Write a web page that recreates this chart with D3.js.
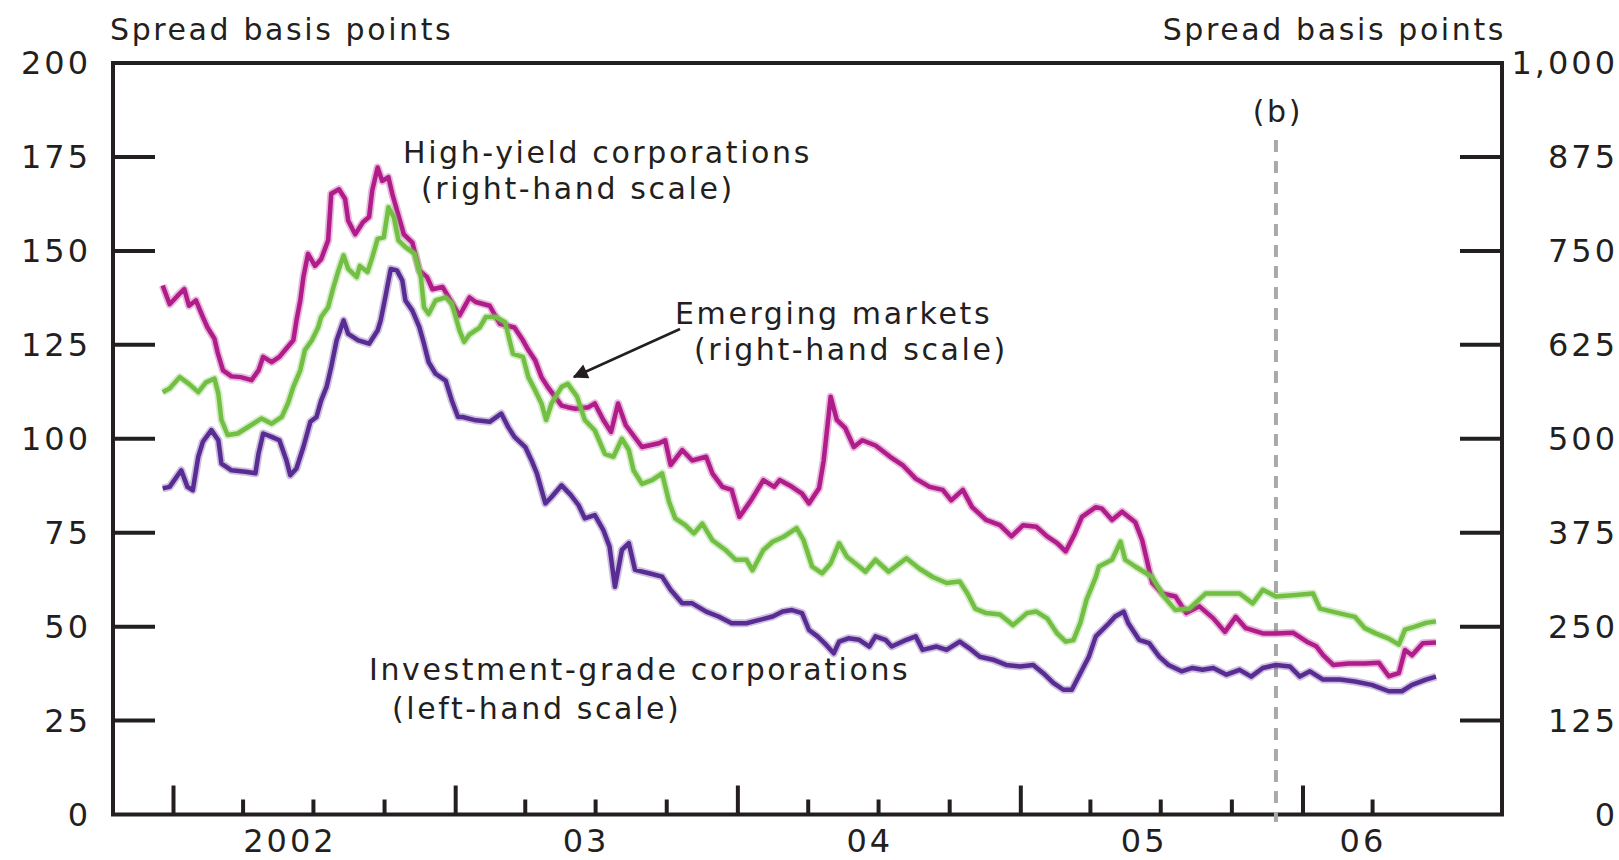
<!DOCTYPE html>
<meta charset="utf-8">
<style>
  body { margin: 0; background: #fff; }
  svg text { font-family: "DejaVu Sans", sans-serif; fill: #231f20; }
  .note { font-size: 30px; letter-spacing: 2.6px; }
  .tick-label { font-size: 32px; letter-spacing: 3px; }
</style>
<script src="https://d3js.org/d3.v7.min.js"></script>
<body>
<script>
// high-yield corporations, right-hand scale (basis points)
var hyDates = [
  "2001-12-18","2001-12-27","2002-01-06","2002-01-15","2002-01-21","2002-01-30","2002-02-08","2002-02-14","2002-02-23","2002-02-27",
  "2002-03-06","2002-03-17","2002-03-29","2002-04-12","2002-04-21","2002-04-27","2002-05-08","2002-05-18","2002-05-27","2002-06-05",
  "2002-06-09","2002-06-14","2002-06-18","2002-06-24","2002-07-03","2002-07-11","2002-07-20","2002-07-24","2002-08-03","2002-08-11",
  "2002-08-15","2002-08-24","2002-09-03","2002-09-11","2002-09-15","2002-09-22","2002-09-28","2002-10-06","2002-10-11","2002-10-21",
  "2002-10-26","2002-11-06","2002-11-15","2002-11-25","2002-12-02","2002-12-15","2003-01-06","2003-01-19","2003-01-27","2003-02-14",
  "2003-02-27","2003-03-18","2003-03-29","2003-04-05","2003-04-14","2003-04-22","2003-04-30","2003-05-18","2003-05-26","2003-06-05",
  "2003-06-22","2003-06-30","2003-07-11","2003-07-21","2003-07-30","2003-08-09","2003-08-30","2003-09-21","2003-09-29","2003-10-06",
  "2003-10-21","2003-11-03","2003-11-21","2003-11-29","2003-12-12","2003-12-24","2004-01-03","2004-01-18","2004-02-03","2004-02-17",
  "2004-02-24","2004-03-11","2004-03-24","2004-04-02","2004-04-15","2004-04-21","2004-04-30","2004-05-08","2004-05-19","2004-05-30",
  "2004-06-10","2004-06-27","2004-07-16","2004-08-01","2004-08-18","2004-09-05","2004-09-22","2004-10-03","2004-10-18","2004-10-30",
  "2004-11-17","2004-12-05","2004-12-20","2005-01-04","2005-01-21","2005-02-04","2005-02-17","2005-02-28","2005-03-12","2005-03-21",
  "2005-04-08","2005-04-16","2005-04-29","2005-05-12","2005-05-29","2005-06-07","2005-06-20","2005-07-03","2005-07-20","2005-08-03",
  "2005-08-20","2005-09-07","2005-09-22","2005-10-06","2005-10-19","2005-11-10","2005-11-27","2005-12-19","2006-01-06","2006-01-18",
  "2006-01-27","2006-02-09","2006-03-01","2006-03-22","2006-04-09","2006-04-22","2006-05-05","2006-05-13","2006-05-22","2006-06-05","2006-06-22"
];
var hyValues = [
  704,679,690,699,677,684,662,648,633,615,
  591,583,582,578,591,609,602,609,620,631,
  657,684,715,746,730,739,764,826,832,819,
  790,772,788,795,830,861,843,848,826,790,
  772,761,724,715,699,702,664,688,682,677,
  653,648,631,618,604,582,569,544,542,540,
  542,547,525,509,547,518,489,494,498,465,
  485,471,476,454,436,432,396,418,445,436,
  445,436,427,414,434,471,556,525,514,489,
  498,491,476,465,447,436,432,418,432,409,
  392,385,370,385,383,370,361,350,374,396,
  409,407,392,403,389,365,308,294,290,268,
  277,261,243,263,248,241,241,242,230,224,
  212,199,201,201,202,184,188,219,212,228,229
];

// emerging markets, right-hand scale
var emDates = [
  "2001-12-18","2001-12-27","2002-01-09","2002-01-21","2002-02-02","2002-02-12","2002-02-23","2002-02-28","2002-03-04","2002-03-12",
  "2002-03-25","2002-04-08","2002-04-25","2002-05-08","2002-05-21","2002-05-29","2002-06-05","2002-06-14","2002-06-20","2002-06-29",
  "2002-07-07","2002-07-11","2002-07-20","2002-07-27","2002-08-03","2002-08-09","2002-08-15","2002-08-26","2002-08-30","2002-09-09",
  "2002-09-15","2002-09-22","2002-09-30","2002-10-06","2002-10-13","2002-10-19","2002-10-28","2002-11-09","2002-11-17","2002-11-21",
  "2002-11-27","2002-12-06","2002-12-19","2002-12-27","2003-01-06","2003-01-12","2003-01-19","2003-02-01","2003-02-09","2003-02-22",
  "2003-03-06","2003-03-16","2003-03-29","2003-04-05","2003-04-14","2003-04-22","2003-04-28","2003-05-05","2003-05-18","2003-05-26",
  "2003-06-07","2003-06-17","2003-06-30","2003-07-13","2003-07-24","2003-08-04","2003-08-13","2003-08-19","2003-08-30","2003-09-12",
  "2003-09-25","2003-10-04","2003-10-12","2003-10-25","2003-11-05","2003-11-16","2003-11-29","2003-12-16","2003-12-29","2004-01-12",
  "2004-01-20","2004-02-03","2004-02-15","2004-03-01","2004-03-17","2004-03-26","2004-04-06","2004-04-19","2004-04-30","2004-05-11",
  "2004-05-21","2004-06-06","2004-06-14","2004-06-27","2004-07-14","2004-08-06","2004-08-23","2004-09-09","2004-09-27","2004-10-14",
  "2004-10-24","2004-11-03","2004-11-17","2004-12-05","2004-12-22","2005-01-09","2005-01-21","2005-02-04","2005-02-17","2005-02-28",
  "2005-03-10","2005-03-19","2005-03-27","2005-04-08","2005-04-12","2005-04-29","2005-05-10","2005-05-16","2005-05-29","2005-06-20",
  "2005-07-05","2005-07-20","2005-08-07","2005-08-28","2005-09-19","2005-10-11","2005-10-28","2005-11-10","2005-11-27","2005-12-23",
  "2006-01-14","2006-01-23","2006-02-16","2006-03-09","2006-03-22","2006-04-05","2006-04-22","2006-05-05","2006-05-13","2006-05-26",
  "2006-06-09","2006-06-22"
];
var emValues = [
  562,567,582,573,562,575,580,560,525,505,
  507,516,527,520,529,547,569,591,618,631,
  648,662,675,702,726,744,726,715,730,722,
  741,766,768,808,795,764,755,746,715,675,
  666,684,688,680,644,629,639,648,662,662,
  655,613,609,582,564,547,525,547,569,573,
  556,525,511,480,476,500,485,458,440,445,
  454,416,394,385,374,387,365,352,339,339,
  325,352,363,370,381,365,330,321,334,361,
  343,330,323,339,323,341,327,316,308,310,
  294,274,268,266,252,268,270,261,241,230,
  232,255,286,316,330,339,363,339,330,316,
  290,272,274,294,294,294,281,299,290,292,
  294,274,268,263,248,241,234,226,246,250,
  255,257
];

// investment-grade corporations, left-hand scale
var igDates = [
  "2001-12-18","2001-12-27","2002-01-11","2002-01-19","2002-01-26","2002-02-02","2002-02-08","2002-02-19","2002-02-28","2002-03-04",
  "2002-03-17","2002-04-04","2002-04-17","2002-04-21","2002-04-27","2002-05-08","2002-05-18","2002-05-27","2002-06-01","2002-06-09",
  "2002-06-18","2002-06-27","2002-07-05","2002-07-11","2002-07-18","2002-07-24","2002-07-31","2002-08-09","2002-08-15","2002-08-28",
  "2002-09-11","2002-09-22","2002-09-26","2002-10-02","2002-10-09","2002-10-17","2002-10-24","2002-10-28","2002-11-06","2002-11-15",
  "2002-11-21","2002-11-27","2002-12-06","2002-12-19","2002-12-27","2003-01-04","2003-01-10","2003-01-27","2003-02-14","2003-03-01",
  "2003-03-10","2003-03-18","2003-04-01","2003-04-09","2003-04-16","2003-04-27","2003-05-05","2003-05-18","2003-05-30","2003-06-09",
  "2003-06-17","2003-06-30","2003-07-11","2003-07-19","2003-07-26","2003-08-04","2003-08-13","2003-08-21","2003-09-08","2003-09-25",
  "2003-10-06","2003-10-21","2003-11-03","2003-11-21","2003-12-07","2003-12-24","2004-01-12","2004-01-29","2004-02-15","2004-02-28",
  "2004-03-11","2004-03-24","2004-04-02","2004-04-13","2004-04-24","2004-05-04","2004-05-11","2004-05-23","2004-06-06","2004-06-19",
  "2004-06-27","2004-07-10","2004-07-18","2004-08-06","2004-08-18","2004-08-27","2004-09-14","2004-09-27","2004-10-14","2004-10-26",
  "2004-11-09","2004-11-26","2004-12-13","2004-12-31","2005-01-17","2005-01-30","2005-02-12","2005-02-25","2005-03-08","2005-03-19",
  "2005-03-30","2005-04-08","2005-04-25","2005-05-03","2005-05-14","2005-05-20","2005-06-03","2005-06-16","2005-06-29","2005-07-11",
  "2005-07-28","2005-08-11","2005-08-24","2005-09-07","2005-09-24","2005-10-11","2005-10-26","2005-11-10","2005-11-27","2005-12-15",
  "2005-12-28","2006-01-10","2006-01-27","2006-02-18","2006-03-09","2006-03-31","2006-04-22","2006-05-09","2006-05-22","2006-06-09",
  "2006-06-22"
];
var igValues = [
  86.8,87.2,91.6,87.2,86.3,95.2,99.2,102.3,99.6,93.4,
  91.6,91.2,90.8,96.1,101.4,100.5,99.6,94.3,90.3,92.1,
  97.8,104.5,105.8,110.2,113.8,119.1,126.2,131.5,127.9,126.2,
  125.3,128.8,131.5,137.7,145.2,144.8,142.1,136.8,134.1,129.7,
  125.3,120.4,117.3,115.5,110.2,105.8,105.8,104.9,104.5,106.7,
  103.1,100.5,97.8,94.3,90.8,82.8,84.5,87.6,85.0,82.3,
  78.8,79.7,75.7,71.3,60.6,70.4,72.2,65.1,64.2,63.3,
  59.8,56.2,56.2,54.0,52.7,50.9,50.9,51.8,52.7,54.0,
  54.4,53.6,49.1,47.4,45.2,42.9,46.0,46.9,46.5,44.7,
  47.4,46.5,44.7,46.5,47.4,43.8,44.7,43.8,46.0,44.3,
  42.0,41.2,39.8,39.4,39.8,37.6,35.0,33.2,33.2,37.6,
  42.0,47.4,50.9,52.7,54.0,50.9,46.5,45.6,42.0,39.8,
  38.1,39.0,38.5,39.0,37.2,38.5,36.7,39.0,39.8,39.4,
  36.7,38.1,35.9,35.9,35.4,34.5,32.8,32.8,34.5,35.9,
  36.7
];

var leftTicks = [0, 25, 50, 75, 100, 125, 150, 175, 200];
var rightTicks = [0, 125, 250, 375, 500, 625, 750, 875, 1000];
var yearLabels = ["2002", "03", "04", "05", "06"];
var yearLabelDates = ["2002-05-29", "2003-06-16", "2004-06-17", "2005-06-07", "2006-03-17"];
var markerDate = "2005-11-27"; // (b)

var width = 1619, height = 860;
var margin = {left: 113, right: 1502, top: 63, bottom: 814.5};

var parse = d3.timeParse("%Y-%m-%d");

var svg = d3.select("body").append("svg")
    .attr("width", width)
    .attr("height", height);

var x = d3.scaleTime()
    .domain([parse("2002-01-01"), parse("2006-01-01")])
    .range([173.5, 1303]);
var yLeft = d3.scaleLinear().domain([0, 200]).range([margin.bottom, margin.top]);
var yRight = d3.scaleLinear().domain([0, 1000]).range([margin.bottom, margin.top]);

var ink = "#231f20";

// frame
svg.append("rect")
    .attr("x", margin.left).attr("y", margin.top)
    .attr("width", margin.right - margin.left)
    .attr("height", margin.bottom - margin.top)
    .attr("fill", "none").attr("stroke", ink).attr("stroke-width", 4);

// y ticks, pointing inwards
svg.selectAll(".ltick").data(leftTicks.slice(1, -1)).enter().append("line")
    .attr("x1", margin.left).attr("x2", margin.left + 42)
    .attr("y1", function(d) { return yLeft(d); })
    .attr("y2", function(d) { return yLeft(d); })
    .attr("stroke", ink).attr("stroke-width", 4);
svg.selectAll(".rtick").data(rightTicks.slice(1, -1)).enter().append("line")
    .attr("x1", margin.right - 42).attr("x2", margin.right)
    .attr("y1", function(d) { return yRight(d); })
    .attr("y2", function(d) { return yRight(d); })
    .attr("stroke", ink).attr("stroke-width", 4);

svg.selectAll(".llab").data(leftTicks).enter().append("text")
    .attr("class", "tick-label")
    .attr("x", 91).attr("y", function(d) { return yLeft(d) + 11; })
    .attr("text-anchor", "end")
    .text(function(d) { return d; });
svg.selectAll(".rlab").data(rightTicks).enter().append("text")
    .attr("class", "tick-label")
    .attr("x", 1618).attr("y", function(d) { return yRight(d) + 11; })
    .attr("text-anchor", "end")
    .text(function(d) { return d3.format(",")(d); });

// quarterly ticks on the time axis, taller at the start of each year
var quarters = d3.timeMonth.every(3).range(parse("2002-01-01"), parse("2006-04-02"));
svg.selectAll(".xtick").data(quarters).enter().append("line")
    .attr("x1", function(d) { return x(d); })
    .attr("x2", function(d) { return x(d); })
    .attr("y1", margin.bottom)
    .attr("y2", function(d) { return margin.bottom - (d.getMonth() === 0 ? 29 : 15); })
    .attr("stroke", ink).attr("stroke-width", 4);

svg.selectAll(".xlab").data(yearLabels).enter().append("text")
    .attr("class", "tick-label")
    .attr("x", function(d, i) { return x(parse(yearLabelDates[i])) + 2; })
    .attr("y", 852)
    .attr("text-anchor", "middle")
    .text(function(d) { return d; });

// axis titles
svg.append("text").attr("class", "note").attr("x", 110).attr("y", 40).text("Spread basis points");
svg.append("text").attr("class", "note").attr("x", 1506).attr("y", 40)
    .attr("text-anchor", "end").text("Spread basis points");

// (b) marker
var mx = x(parse(markerDate));
svg.append("line")
    .attr("x1", mx).attr("x2", mx).attr("y1", 140).attr("y2", 822)
    .attr("stroke", "#a9a9a9").attr("stroke-width", 4)
    .attr("stroke-dasharray", "12,9");
svg.append("text").attr("class", "note").attr("x", mx + 2).attr("y", 122)
    .attr("text-anchor", "middle").text("(b)");

// series
function series(dates, values, yScale) {
  return dates.map(function(d, i) { return [x(parse(d)), yScale(values[i])]; });
}
var line = d3.line();
var lines = [
  {pts: series(igDates, igValues, yLeft), color: "#582c92"},
  {pts: series(hyDates, hyValues, yRight), color: "#b01c8a"},
  {pts: series(emDates, emValues, yRight), color: "#72bf44"}
];
lines.forEach(function(s) {
  svg.append("path").attr("d", line(s.pts))
      .attr("fill", "none").attr("stroke", s.color)
      .attr("stroke-width", 8).attr("stroke-opacity", 0.3)
      .attr("stroke-linejoin", "round");
  svg.append("path").attr("d", line(s.pts))
      .attr("fill", "none").attr("stroke", s.color)
      .attr("stroke-width", 4.5)
      .attr("stroke-linejoin", "round");
});

// annotations
function note(lines, xs, ys) {
  lines.forEach(function(t, i) {
    svg.append("text").attr("class", "note").attr("x", xs[i]).attr("y", ys[i]).text(t);
  });
}
note(["High-yield corporations", "(right-hand scale)"], [403, 421], [163, 199]);
note(["Emerging markets", "(right-hand scale)"], [675, 694], [324, 360]);
note(["Investment-grade corporations", "(left-hand scale)"], [369, 392], [680, 719]);

// arrow to the emerging markets line
svg.append("defs").append("marker")
    .attr("id", "head").attr("viewBox", "0 0 10 10")
    .attr("refX", 9).attr("refY", 5)
    .attr("markerWidth", 7).attr("markerHeight", 6)
    .attr("orient", "auto")
  .append("path").attr("d", "M0,0L10,5L0,10z").attr("fill", ink);
svg.append("line")
    .attr("x1", 680).attr("y1", 329).attr("x2", 574).attr("y2", 377)
    .attr("stroke", ink).attr("stroke-width", 2.5)
    .attr("marker-end", "url(#head)");
</script>
</body>
